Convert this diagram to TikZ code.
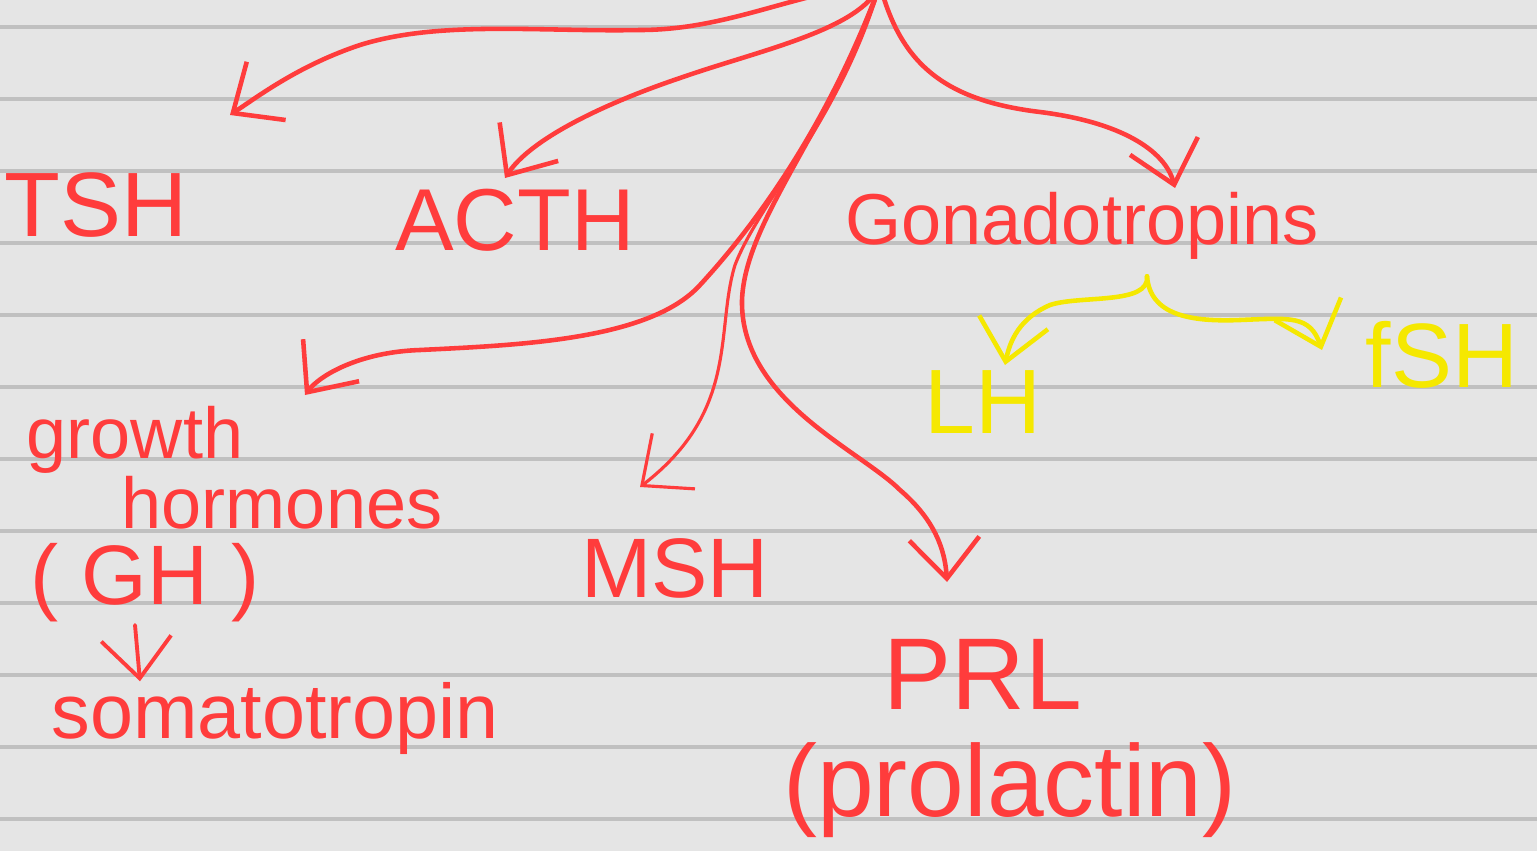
\documentclass[tikz,border=0pt]{standalone}
\usepackage{fontspec}
\setmainfont{Liberation Sans}
\definecolor{myred}{RGB}{255,60,60}
\definecolor{myyellow}{RGB}{245,232,0}
\definecolor{mypaper}{RGB}{229,229,229}
\definecolor{myrule}{RGB}{192,192,192}
\usetikzlibrary{arrows.meta,positioning,calc}

\begin{document}
\begin{tikzpicture}[
  x=0.01cm, y=-0.01cm,
  mylabel/.style={
    text=myred,
    inner sep=0pt,
    font=\fontsize{#1}{#1}\selectfont
    },
  myarrow/.style={
    draw=myred,
    line width=1.3pt,
    line cap=round,
    -{Straight Barb[length=4mm,width=7mm]}
    },
  mysub/.style={
    myarrow,
    draw=myyellow
    }
]

% paper
\useasboundingbox (0,0) rectangle (1537,851);
\fill[mypaper] (0,0) rectangle (1537,851);
\clip (0,0) rectangle (1537,851);
\foreach \y in {27,99,...,819}
  \draw[myrule, line width=0.9pt] (0,\y) -- (1537,\y);

\coordinate (hub) at (880,-15);

% hormones
\node[mylabel=26] (tsh) at (96,205) {TSH};
\node[mylabel=25] (acth) at (515,220) {ACTH};
\node[mylabel=20.5] (gonado) at (1082,226) {Gonadotropins};
\node[mylabel=20.5] (growth) at (135,440) {growth};
\node[mylabel=20.5] (hormones) at (282,503) {hormones};
\node[mylabel=24] (gh) at (145,583) {( GH )};
\node[mylabel=22] (somato) at (275,718) {somatotropin};
\node[mylabel=24] (msh) at (675,568) {MSH};
\node[mylabel=29] (prl) at (983,674) {PRL};
\node[mylabel=29] (prolactin) at (1010,790) {(prolactin)};
\node[mylabel=26, text=myyellow] (lh) at (983,402) {LH};
\node[mylabel=26, text=myyellow] (fsh) at (1442,355) {fSH};

% from the pituitary
\draw[myarrow] (hub) .. controls (800,-10) and (730,30) .. (640,30)
  .. controls (540,32) and (440,20) .. (360,45)
  .. controls (300,65) and (260,95) .. ([shift={(134,-90)}]tsh.center);
\draw[myarrow] (hub) .. controls (860,30) and (760,50) .. (680,78)
  .. controls (600,105) and (530,140) .. ([shift={(-10,-42)}]acth.center);
\draw[myarrow] (hub) .. controls (900,60) and (940,100) .. (1040,112)
  .. controls (1120,122) and (1165,150) .. ([shift={(93,-38)}]gonado.center);
\draw[myarrow] (hub) .. controls (830,120) and (760,220) .. (700,285)
  .. controls (650,340) and (520,345) .. (420,350)
  .. controls (360,352) and (320,375) .. ([shift={(170,-45)}]growth.center);
\draw[myarrow, line width=0.9pt] (hub) .. controls (840,120) and (760,200) .. (735,265)
  .. controls (715,330) and (740,410) .. ([shift={(-35,-81)}]msh.center);
\draw[myarrow] (hub) .. controls (830,130) and (745,220) .. (742,300)
  .. controls (740,400) and (860,450) .. (900,490)
  .. controls (935,520) and (945,550) .. ([shift={(-36,-92)}]prl.center);
\draw[myarrow, line width=1.1pt] ([shift={(-10,2)}]gh.south) -- ([shift={(-135,0)}]somato.north);

% gonadotropins
\draw[mysub] ([shift={(65,16)}]gonado.south) .. controls (1150,305) and (1080,295) .. (1050,305)
  .. controls (1020,318) and (1010,340) .. ([shift={(22,-37)}]lh.center);
\draw[mysub] ([shift={(65,16)}]gonado.south) .. controls (1150,315) and (1190,322) .. (1240,320)
  .. controls (1290,318) and (1310,315) .. ([shift={(-120,-5)}]fsh.center);
\end{tikzpicture}
\end{document}
